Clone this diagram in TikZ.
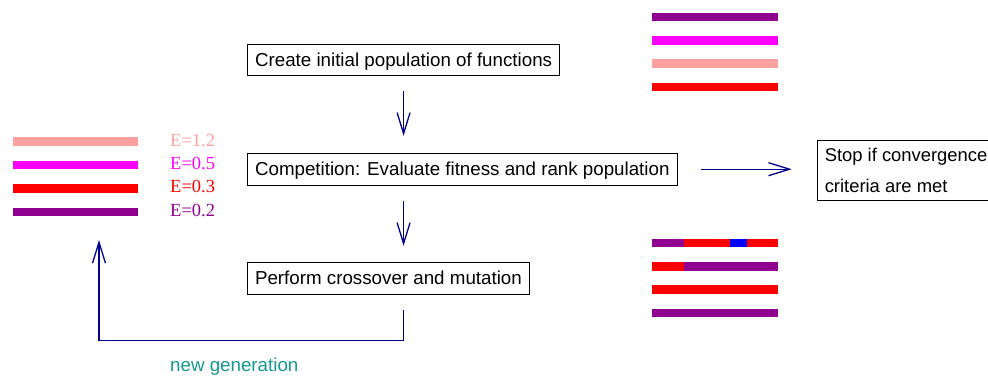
\documentclass[tikz,border=0pt]{standalone}
\usepackage{fontspec}
\setmainfont{Liberation Serif}
\setsansfont{Liberation Sans}
\usepackage{tikz}
\usetikzlibrary{arrows.meta}

\definecolor{navyline}{RGB}{0,0,144}
\definecolor{purplish}{RGB}{144,0,144}
\definecolor{pinkish}{RGB}{255,160,160}
\definecolor{brightmagenta}{RGB}{255,0,255}
\definecolor{tealtext}{RGB}{20,152,144}

\begin{document}
\begin{tikzpicture}[x=1pt, y=-1pt,
    stepbox/.style = {shape=rectangle, draw, line width=1.1pt, inner xsep=7.5pt,
        font=\sffamily\fontsize{18.75}{22}\selectfont, text height=13.5pt, text depth=0.5pt,
        minimum height=31.7pt, anchor=west},
    flow/.style = {draw=navyline, line width=1.3pt, -{Straight Barb[length=21pt,width=13pt]}},
    bar/.style = {line width=8.7pt},
    elabel/.style = {font=\fontsize{18.5}{20}\selectfont, inner sep=0pt, anchor=base west}]
    \useasboundingbox (0,0) rectangle (988,376);
    \clip (0,0) rectangle (988,376);

    \node[stepbox] (create) at (247,59.9) {Create initial population of functions};
    \node[stepbox] (compete) at (247,169.2) {Competition: Evaluate fitness and rank population};
    \node[stepbox] (cross) at (247,278.2) {Perform crossover and mutation};
    \node[stepbox, anchor=north west, align=left, text height=, text depth=, minimum height=60pt,
        font=\sffamily\fontsize{18.4}{30.3}\selectfont] (stop) at (816.7,140)
        {Stop if convergence\\criteria are met};

    \draw[flow] ([yshift=-15pt]create.south) -- ([yshift=17pt]create.south |- compete.north);
    \draw[flow] ([yshift=-15pt]create.south |- compete.south) -- ([yshift=16pt]create.south |- cross.north);
    \draw[flow] ([xshift=23pt]compete.east) -- ([xshift=-25pt]compete.east -| stop.west);

    \coordinate (retstart) at ([yshift=-15pt]create.south |- cross.south);
    \coordinate (retend) at (99,240);
    \draw[flow] (retstart) -- ++(0,31) -| (retend);
    \node[font=\sffamily\fontsize{18.75}{22}\selectfont, text=tealtext, inner sep=0pt, anchor=base west]
        (newgen) at (170,371.7) {new generation};

    \foreach \y/\c/\e [count=\i] in {141.7/pinkish/1.2, 165/brightmagenta/0.5, 188.3/red/0.3, 212/purplish/0.2}{
        \draw[bar,\c] (13,\y) -- (138,\y);
        \node[elabel, text=\c] (energy\i) at (170,\y+4.3) {E=\e};
    }

    \foreach \y/\c in {17/purplish, 40.3/brightmagenta, 63.7/pinkish, 87/red}
        \draw[bar,\c] (652,\y) -- (778,\y);

    \draw[bar,purplish] (652,243) -- (683.7,243);
    \draw[bar,red] (683.7,243) -- (730,243);
    \draw[bar,blue] (730,243) -- (747,243);
    \draw[bar,red] (747,243) -- (778,243);
    \draw[bar,red] (652,266.3) -- (684.3,266.3);
    \draw[bar,purplish] (684.3,266.3) -- (778,266.3);
    \draw[bar,red] (652,289.7) -- (778,289.7);
    \draw[bar,purplish] (652,313) -- (778,313);
\end{tikzpicture}
\end{document}
